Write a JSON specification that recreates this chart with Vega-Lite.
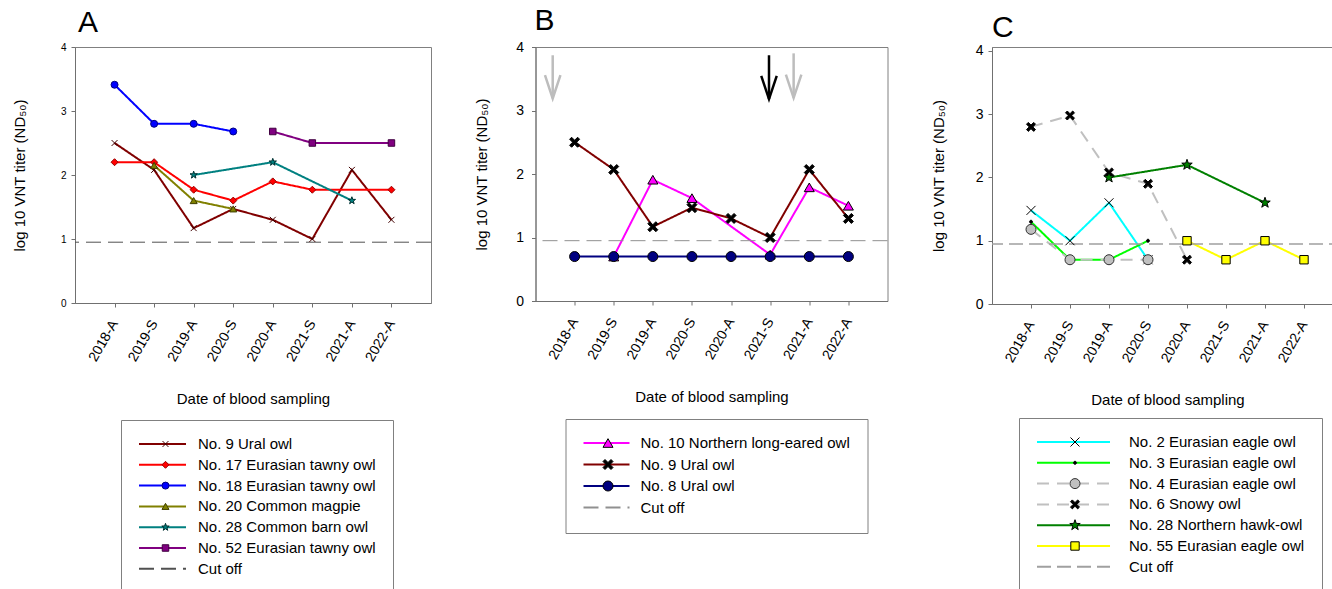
{
"$schema": "https://vega.github.io/schema/vega-lite/v6.json",
"padding": {"left": 11, "top": 5, "right": 0, "bottom": 0},
"config": {
  "font": "Liberation Sans",
  "view": {"stroke": "#808080", "strokeWidth": 1},
  "axis": {"labelColor": "black", "titleColor": "black", "titleFontWeight": "normal", "grid": false, "domainColor": "#707070", "tickColor": "#707070", "labelFont": "Liberation Sans", "titleFont": "Liberation Sans"},
  "legend": {"labelColor": "black", "labelFont": "Liberation Sans"},
  "title": {"color": "black", "font": "Liberation Sans"}
},
"datasets": {
  "panelA": [
    {"series": "No. 9 Ural owl", "date": "2018-A", "value": 2.50},
    {"series": "No. 9 Ural owl", "date": "2019-S", "value": 2.08},
    {"series": "No. 9 Ural owl", "date": "2019-A", "value": 1.17},
    {"series": "No. 9 Ural owl", "date": "2020-S", "value": 1.47},
    {"series": "No. 9 Ural owl", "date": "2020-A", "value": 1.30},
    {"series": "No. 9 Ural owl", "date": "2021-S", "value": 1.00},
    {"series": "No. 9 Ural owl", "date": "2021-A", "value": 2.08},
    {"series": "No. 9 Ural owl", "date": "2022-A", "value": 1.30},
    {"series": "No. 17 Eurasian tawny owl", "date": "2018-A", "value": 2.20},
    {"series": "No. 17 Eurasian tawny owl", "date": "2019-S", "value": 2.20},
    {"series": "No. 17 Eurasian tawny owl", "date": "2019-A", "value": 1.77},
    {"series": "No. 17 Eurasian tawny owl", "date": "2020-S", "value": 1.60},
    {"series": "No. 17 Eurasian tawny owl", "date": "2020-A", "value": 1.90},
    {"series": "No. 17 Eurasian tawny owl", "date": "2021-S", "value": 1.77},
    {"series": "No. 17 Eurasian tawny owl", "date": "2022-A", "value": 1.77},
    {"series": "No. 18 Eurasian tawny owl", "date": "2018-A", "value": 3.41},
    {"series": "No. 18 Eurasian tawny owl", "date": "2019-S", "value": 2.80},
    {"series": "No. 18 Eurasian tawny owl", "date": "2019-A", "value": 2.80},
    {"series": "No. 18 Eurasian tawny owl", "date": "2020-S", "value": 2.68},
    {"series": "No. 20 Common magpie", "date": "2019-S", "value": 2.15},
    {"series": "No. 20 Common magpie", "date": "2019-A", "value": 1.60},
    {"series": "No. 20 Common magpie", "date": "2020-S", "value": 1.47},
    {"series": "No. 28 Common barn owl", "date": "2019-A", "value": 2.00},
    {"series": "No. 28 Common barn owl", "date": "2020-A", "value": 2.20},
    {"series": "No. 28 Common barn owl", "date": "2021-A", "value": 1.60},
    {"series": "No. 52 Eurasian tawny owl", "date": "2020-A", "value": 2.68},
    {"series": "No. 52 Eurasian tawny owl", "date": "2021-S", "value": 2.50},
    {"series": "No. 52 Eurasian tawny owl", "date": "2022-A", "value": 2.50}
  ],
  "panelB": [
    {"series": "No. 10 Northern long-eared owl", "date": "2019-S", "value": 0.70},
    {"series": "No. 10 Northern long-eared owl", "date": "2019-A", "value": 1.91},
    {"series": "No. 10 Northern long-eared owl", "date": "2020-S", "value": 1.62},
    {"series": "No. 10 Northern long-eared owl", "date": "2021-S", "value": 0.73},
    {"series": "No. 10 Northern long-eared owl", "date": "2021-A", "value": 1.79},
    {"series": "No. 10 Northern long-eared owl", "date": "2022-A", "value": 1.50},
    {"series": "No. 9 Ural owl", "date": "2018-A", "value": 2.50},
    {"series": "No. 9 Ural owl", "date": "2019-S", "value": 2.07},
    {"series": "No. 9 Ural owl", "date": "2019-A", "value": 1.17},
    {"series": "No. 9 Ural owl", "date": "2020-S", "value": 1.47},
    {"series": "No. 9 Ural owl", "date": "2020-A", "value": 1.30},
    {"series": "No. 9 Ural owl", "date": "2021-S", "value": 1.00},
    {"series": "No. 9 Ural owl", "date": "2021-A", "value": 2.07},
    {"series": "No. 9 Ural owl", "date": "2022-A", "value": 1.30},
    {"series": "No. 8 Ural owl", "date": "2018-A", "value": 0.70},
    {"series": "No. 8 Ural owl", "date": "2019-S", "value": 0.70},
    {"series": "No. 8 Ural owl", "date": "2019-A", "value": 0.70},
    {"series": "No. 8 Ural owl", "date": "2020-S", "value": 0.70},
    {"series": "No. 8 Ural owl", "date": "2020-A", "value": 0.70},
    {"series": "No. 8 Ural owl", "date": "2021-S", "value": 0.70},
    {"series": "No. 8 Ural owl", "date": "2021-A", "value": 0.70},
    {"series": "No. 8 Ural owl", "date": "2022-A", "value": 0.70}
  ],
  "arrowsB": [
    {"kind": "type1", "pos": 0.44, "top": 3.87, "tip": 3.19},
    {"kind": "type2", "pos": 5.97, "top": 3.87, "tip": 3.18},
    {"kind": "type1", "pos": 6.6, "top": 3.9, "tip": 3.2}
  ],
  "panelC": [
    {"series": "No. 2 Eurasian eagle owl", "date": "2018-A", "value": 1.48},
    {"series": "No. 2 Eurasian eagle owl", "date": "2019-S", "value": 1.00},
    {"series": "No. 2 Eurasian eagle owl", "date": "2019-A", "value": 1.60},
    {"series": "No. 2 Eurasian eagle owl", "date": "2020-S", "value": 0.70},
    {"series": "No. 3 Eurasian eagle owl", "date": "2018-A", "value": 1.30},
    {"series": "No. 3 Eurasian eagle owl", "date": "2019-S", "value": 0.70},
    {"series": "No. 3 Eurasian eagle owl", "date": "2019-A", "value": 0.70},
    {"series": "No. 3 Eurasian eagle owl", "date": "2020-S", "value": 1.00},
    {"series": "No. 4 Eurasian eagle owl", "date": "2018-A", "value": 1.18},
    {"series": "No. 4 Eurasian eagle owl", "date": "2019-S", "value": 0.70},
    {"series": "No. 4 Eurasian eagle owl", "date": "2019-A", "value": 0.70},
    {"series": "No. 4 Eurasian eagle owl", "date": "2020-S", "value": 0.70},
    {"series": "No. 6 Snowy owl", "date": "2018-A", "value": 2.80},
    {"series": "No. 6 Snowy owl", "date": "2019-S", "value": 2.98},
    {"series": "No. 6 Snowy owl", "date": "2019-A", "value": 2.08},
    {"series": "No. 6 Snowy owl", "date": "2020-S", "value": 1.90},
    {"series": "No. 6 Snowy owl", "date": "2020-A", "value": 0.70},
    {"series": "No. 28 Northern hawk-owl", "date": "2019-A", "value": 2.00},
    {"series": "No. 28 Northern hawk-owl", "date": "2020-A", "value": 2.20},
    {"series": "No. 28 Northern hawk-owl", "date": "2021-A", "value": 1.60},
    {"series": "No. 55 Eurasian eagle owl", "date": "2020-A", "value": 1.00},
    {"series": "No. 55 Eurasian eagle owl", "date": "2021-S", "value": 0.70},
    {"series": "No. 55 Eurasian eagle owl", "date": "2021-A", "value": 1.00},
    {"series": "No. 55 Eurasian eagle owl", "date": "2022-A", "value": 0.70}
  ]
},
"bounds": "flush",
"spacing": 104.5,
"resolve": {"scale": {"x": "independent", "y": "independent", "color": "independent", "strokeDash": "independent", "shape": "independent", "fill": "independent", "stroke": "independent"}, "legend": {"color": "independent", "shape": "independent", "strokeDash": "independent", "fill": "independent", "stroke": "independent"}},
"hconcat": [
{
  "width": 356, "height": 256,
  "title": {"text": "A", "anchor": "start", "frame": "group", "fontSize": 30, "fontWeight": "normal", "offset": -20, "dx": 3, "baseline": "alphabetic"},
  "layer": [
    {"data": {"name": "panelA"}, "mark": {"type": "line", "strokeWidth": 2},
     "encoding": {
       "x": {"field": "date", "type": "ordinal", "sort": ["2018-A","2019-S","2019-A","2020-S","2020-A","2021-S","2021-A","2022-A"], "scale": {"domain": ["2018-A","2019-S","2019-A","2020-S","2020-A","2021-S","2021-A","2022-A"], "padding": 1}, "axis": {"title": "Date of blood sampling", "labelAngle": -60, "labelFontSize": 14, "titleFontSize": 15, "tickSize": 4, "labelPadding": 14, "titlePadding": 28}},
       "y": {"field": "value", "type": "quantitative", "scale": {"domain": [0, 4], "nice": false}, "axis": {"title": "log 10 VNT titer (ND₅₀)", "values": [0,1,2,3,4], "format": "d", "labelFontSize": 10, "titleFontSize": 15, "tickSize": 4, "labelPadding": 5, "titlePadding": 33}},
       "color": {"field": "series", "type": "nominal",
         "scale": {"domain": ["No. 9 Ural owl","No. 17 Eurasian tawny owl","No. 18 Eurasian tawny owl","No. 20 Common magpie","No. 28 Common barn owl","No. 52 Eurasian tawny owl","Cut off"], "range": ["#800000","#FF0000","#0000FF","#808000","#008080","#800080","#505050"]},
         "legend": {"orient": "none", "legendX": 46, "legendY": 373, "title": null, "direction": "vertical", "symbolType": "stroke", "symbolSize": 2209, "symbolStrokeWidth": 2, "labelFontSize": 15, "labelOffset": 11, "labelLimit": 400, "clipHeight": 14, "rowPadding": 5.8, "padding": 17, "strokeColor": "#808080"}},
       "strokeDash": {"field": "series", "type": "nominal",
         "scale": {"domain": ["No. 9 Ural owl","No. 17 Eurasian tawny owl","No. 18 Eurasian tawny owl","No. 20 Common magpie","No. 28 Common barn owl","No. 52 Eurasian tawny owl","Cut off"], "range": [[1,0],[1,0],[1,0],[1,0],[1,0],[1,0],[15,7]]},
         "legend": {"orient": "none", "legendX": 46, "legendY": 373, "title": null, "direction": "vertical", "symbolType": "stroke", "symbolSize": 2209, "symbolStrokeWidth": 2, "labelFontSize": 15, "labelOffset": 11, "labelLimit": 400, "clipHeight": 14, "rowPadding": 5.8, "padding": 17, "strokeColor": "#808080"}}
     }},
    {"data": {"values": [{"label": "Cut off", "value": 0.95}]}, "mark": {"type": "rule", "strokeWidth": 1},
     "encoding": {"y": {"field": "value", "type": "quantitative"}, "color": {"field": "label", "type": "nominal"}, "strokeDash": {"field": "label", "type": "nominal"}}},
    {"data": {"name": "panelA"}, "mark": {"type": "point", "opacity": 1, "strokeWidth": 1, "size": 49},
     "encoding": {
       "x": {"field": "date", "type": "ordinal", "sort": ["2018-A","2019-S","2019-A","2020-S","2020-A","2021-S","2021-A","2022-A"]},
       "y": {"field": "value", "type": "quantitative"},
       "shape": {"field": "series", "type": "nominal",
         "scale": {"domain": ["No. 9 Ural owl","No. 17 Eurasian tawny owl","No. 18 Eurasian tawny owl","No. 20 Common magpie","No. 28 Common barn owl","No. 52 Eurasian tawny owl"], "range": ["M-0.85,-0.85L0.85,0.85M-0.85,0.85L0.85,-0.85","diamond","circle","triangle-up","M0,-1.1L0.259,-0.356L1.046,-0.34L0.418,0.136L0.647,0.89L0,0.44L-0.647,0.89L-0.418,0.136L-1.046,-0.34L-0.259,-0.356Z","M-0.93,-0.93H0.93V0.93H-0.93Z"]},
         "legend": {"orient": "none", "legendX": 66, "legendY": 373, "title": null, "direction": "vertical", "symbolSize": 49, "labelFontSize": 15, "labelOpacity": 0, "labelOffset": 11, "labelLimit": 400, "clipHeight": 14, "rowPadding": 5.8, "padding": 17, "symbolStrokeWidth": 1}},
       "fill": {"field": "series", "type": "nominal", "scale": {"domain": ["No. 9 Ural owl","No. 17 Eurasian tawny owl","No. 18 Eurasian tawny owl","No. 20 Common magpie","No. 28 Common barn owl","No. 52 Eurasian tawny owl"], "range": ["transparent","#FF0000","#0000FF","#808000","#008080","#800080"]},
         "legend": {"orient": "none", "legendX": 66, "legendY": 373, "title": null, "direction": "vertical", "symbolSize": 49, "labelFontSize": 15, "labelOpacity": 0, "labelOffset": 11, "labelLimit": 400, "clipHeight": 14, "rowPadding": 5.8, "padding": 17, "symbolStrokeWidth": 1}},
       "stroke": {"field": "series", "type": "nominal", "scale": {"domain": ["No. 9 Ural owl","No. 17 Eurasian tawny owl","No. 18 Eurasian tawny owl","No. 20 Common magpie","No. 28 Common barn owl","No. 52 Eurasian tawny owl"], "range": ["#400000","#990000","#000080","#404000","#003030","#400040"]},
         "legend": {"orient": "none", "legendX": 66, "legendY": 373, "title": null, "direction": "vertical", "symbolSize": 49, "labelFontSize": 15, "labelOpacity": 0, "labelOffset": 11, "labelLimit": 400, "clipHeight": 14, "rowPadding": 5.8, "padding": 17, "symbolStrokeWidth": 1}}
     }}
  ]
},
{
  "width": 352, "height": 254,
  "title": {"text": "B", "anchor": "start", "frame": "group", "fontSize": 30, "fontWeight": "normal", "offset": -20, "dx": -1, "baseline": "alphabetic"},
  "resolve": {"scale": {"x": "independent"}},
  "layer": [
    {"layer": [
    {"data": {"name": "panelB"}, "mark": {"type": "line", "strokeWidth": 2},
     "encoding": {
       "x": {"field": "date", "type": "ordinal", "sort": ["2018-A","2019-S","2019-A","2020-S","2020-A","2021-S","2021-A","2022-A"], "scale": {"domain": ["2018-A","2019-S","2019-A","2020-S","2020-A","2021-S","2021-A","2022-A"], "padding": 1}, "axis": {"title": "Date of blood sampling", "labelAngle": -60, "labelFontSize": 14, "titleFontSize": 15, "tickSize": 4, "labelPadding": 14, "titlePadding": 28}},
       "y": {"field": "value", "type": "quantitative", "scale": {"domain": [0, 4], "nice": false}, "axis": {"title": "log 10 VNT titer (ND₅₀)", "values": [0,1,2,3,4], "format": "d", "labelFontSize": 14, "titleFontSize": 15, "tickSize": 4, "labelPadding": 8, "titlePadding": 26}},
       "color": {"field": "series", "type": "nominal",
         "scale": {"domain": ["No. 10 Northern long-eared owl","No. 9 Ural owl","No. 8 Ural owl","Cut off"], "range": ["#FF00FF","#800000","#000080","#909090"]},
         "legend": {"orient": "none", "legendX": 30, "legendY": 372, "title": null, "direction": "vertical", "symbolType": "stroke", "symbolSize": 2116, "symbolStrokeWidth": 2, "labelFontSize": 15, "labelOffset": 10, "labelLimit": 400, "clipHeight": 14, "rowPadding": 6.5, "padding": 17, "strokeColor": "#808080"}},
       "strokeDash": {"field": "series", "type": "nominal",
         "scale": {"domain": ["No. 10 Northern long-eared owl","No. 9 Ural owl","No. 8 Ural owl","Cut off"], "range": [[1,0],[1,0],[1,0],[15,7]]},
         "legend": {"orient": "none", "legendX": 30, "legendY": 372, "title": null, "direction": "vertical", "symbolType": "stroke", "symbolSize": 2116, "symbolStrokeWidth": 2, "labelFontSize": 15, "labelOffset": 10, "labelLimit": 400, "clipHeight": 14, "rowPadding": 6.5, "padding": 17, "strokeColor": "#808080"}}
     }},
    {"data": {"values": [{"label": "Cut off", "value": 0.95}]}, "mark": {"type": "rule", "strokeWidth": 1},
     "encoding": {"y": {"field": "value", "type": "quantitative"}, "color": {"field": "label", "type": "nominal"}, "strokeDash": {"field": "label", "type": "nominal"}}},
    {"data": {"name": "panelB"}, "mark": {"type": "point", "opacity": 1, "strokeWidth": 1, "size": 100},
     "encoding": {
       "x": {"field": "date", "type": "ordinal", "sort": ["2018-A","2019-S","2019-A","2020-S","2020-A","2021-S","2021-A","2022-A"]},
       "y": {"field": "value", "type": "quantitative"},
       "shape": {"field": "series", "type": "nominal",
         "scale": {"domain": ["No. 10 Northern long-eared owl","No. 9 Ural owl","No. 8 Ural owl"], "range": ["triangle-up","M-1,-0.6L-0.6,-1L0,-0.4L0.6,-1L1,-0.6L0.4,0L1,0.6L0.6,1L0,0.4L-0.6,1L-1,0.6L-0.4,0Z","circle"]},
         "legend": {"orient": "none", "legendX": 48, "legendY": 372, "title": null, "direction": "vertical", "symbolSize": 100, "labelFontSize": 15, "labelOpacity": 0, "labelOffset": 10, "labelLimit": 400, "clipHeight": 14, "rowPadding": 6.5, "padding": 17, "symbolStrokeWidth": 1}},
       "fill": {"field": "series", "type": "nominal", "scale": {"domain": ["No. 10 Northern long-eared owl","No. 9 Ural owl","No. 8 Ural owl"], "range": ["#FF00FF","#000000","#000080"]},
         "legend": {"orient": "none", "legendX": 48, "legendY": 372, "title": null, "direction": "vertical", "symbolSize": 100, "labelFontSize": 15, "labelOpacity": 0, "labelOffset": 10, "labelLimit": 400, "clipHeight": 14, "rowPadding": 6.5, "padding": 17, "symbolStrokeWidth": 1}},
       "stroke": {"field": "series", "type": "nominal", "scale": {"domain": ["No. 10 Northern long-eared owl","No. 9 Ural owl","No. 8 Ural owl"], "range": ["#000000","#000000","#000000"]},
         "legend": {"orient": "none", "legendX": 48, "legendY": 372, "title": null, "direction": "vertical", "symbolSize": 100, "labelFontSize": 15, "labelOpacity": 0, "labelOffset": 10, "labelLimit": 400, "clipHeight": 14, "rowPadding": 6.5, "padding": 17, "symbolStrokeWidth": 1}}
     }}
    ]},
    {"data": {"name": "arrowsB"},
     "layer": [
      {"mark": {"type": "rule", "strokeWidth": 2.5},
       "encoding": {
         "x": {"field": "pos", "type": "quantitative", "scale": {"domain": [0, 9], "nice": false, "zero": false}, "axis": null},
         "y": {"field": "top", "type": "quantitative", "scale": {"domain": [0, 4], "nice": false}},
         "y2": {"field": "tip"},
         "color": {"condition": {"test": "datum.kind === 'type2'", "value": "#000000"}, "value": "#BDBDBD"}
       }},
      {"mark": {"type": "point", "shape": "M-1,-3L0,0L1,-3", "size": 240, "strokeWidth": 2.5, "opacity": 1, "filled": false},
       "encoding": {
         "x": {"field": "pos", "type": "quantitative", "scale": {"domain": [0, 9], "nice": false, "zero": false}, "axis": null},
         "y": {"field": "tip", "type": "quantitative", "scale": {"domain": [0, 4], "nice": false}},
         "color": {"condition": {"test": "datum.kind === 'type2'", "value": "#000000"}, "value": "#BDBDBD"}
       }}
     ]}
  ]
},
{
  "width": 351, "height": 257,
  "title": {"text": "C", "anchor": "start", "frame": "group", "fontSize": 30, "fontWeight": "normal", "offset": -23, "dx": 0, "baseline": "alphabetic"},
  "layer": [
    {"data": {"name": "panelC"}, "mark": {"type": "line", "strokeWidth": 2},
     "encoding": {
       "x": {"field": "date", "type": "ordinal", "sort": ["2018-A","2019-S","2019-A","2020-S","2020-A","2021-S","2021-A","2022-A"], "scale": {"domain": ["2018-A","2019-S","2019-A","2020-S","2020-A","2021-S","2021-A","2022-A"], "padding": 1}, "axis": {"title": "Date of blood sampling", "labelAngle": -60, "labelFontSize": 14, "titleFontSize": 15, "tickSize": 4, "labelPadding": 14, "titlePadding": 28}},
       "y": {"field": "value", "type": "quantitative", "scale": {"domain": [0, 4.063], "nice": false}, "axis": {"title": "log 10 VNT titer (ND₅₀)", "values": [0,1,2,3,4], "format": "d", "labelFontSize": 14, "titleFontSize": 15, "tickSize": 4, "labelPadding": 5, "titlePadding": 29}},
       "color": {"field": "series", "type": "nominal",
         "scale": {"domain": ["No. 2 Eurasian eagle owl","No. 3 Eurasian eagle owl","No. 4 Eurasian eagle owl","No. 6 Snowy owl","No. 28 Northern hawk-owl","No. 55 Eurasian eagle owl","Cut off"], "range": ["#00FFFF","#00FF00","#C0C0C0","#C0C0C0","#008000","#FFFF00","#A0A0A0"]},
         "legend": {"orient": "none", "legendX": 27, "legendY": 371, "title": null, "direction": "vertical", "symbolType": "stroke", "symbolSize": 5329, "symbolStrokeWidth": 2, "labelFontSize": 15, "labelOffset": 18, "labelLimit": 400, "clipHeight": 14, "rowPadding": 5.8, "padding": 17, "strokeColor": "#808080"}},
       "strokeDash": {"field": "series", "type": "nominal",
         "scale": {"domain": ["No. 2 Eurasian eagle owl","No. 3 Eurasian eagle owl","No. 4 Eurasian eagle owl","No. 6 Snowy owl","No. 28 Northern hawk-owl","No. 55 Eurasian eagle owl","Cut off"], "range": [[1,0],[1,0],[12,8],[12,8],[1,0],[1,0],[14,6]]},
         "legend": {"orient": "none", "legendX": 27, "legendY": 371, "title": null, "direction": "vertical", "symbolType": "stroke", "symbolSize": 5329, "symbolStrokeWidth": 2, "labelFontSize": 15, "labelOffset": 18, "labelLimit": 400, "clipHeight": 14, "rowPadding": 5.8, "padding": 17, "strokeColor": "#808080"}}
     }},
    {"data": {"values": [{"label": "Cut off", "value": 0.95}]}, "mark": {"type": "rule", "strokeWidth": 1.5},
     "encoding": {"y": {"field": "value", "type": "quantitative"}, "color": {"field": "label", "type": "nominal"}, "strokeDash": {"field": "label", "type": "nominal"}}},
    {"data": {"name": "panelC"}, "mark": {"type": "point", "opacity": 1, "strokeWidth": 1, "size": 100},
     "encoding": {
       "x": {"field": "date", "type": "ordinal", "sort": ["2018-A","2019-S","2019-A","2020-S","2020-A","2021-S","2021-A","2022-A"]},
       "y": {"field": "value", "type": "quantitative"},
       "shape": {"field": "series", "type": "nominal",
         "scale": {"domain": ["No. 2 Eurasian eagle owl","No. 3 Eurasian eagle owl","No. 4 Eurasian eagle owl","No. 6 Snowy owl","No. 28 Northern hawk-owl","No. 55 Eurasian eagle owl"], "range": ["M-0.9,-0.9L0.9,0.9M-0.9,0.9L0.9,-0.9","M0.3,0A0.3,0.3 0 1,1 -0.3,0A0.3,0.3 0 1,1 0.3,0Z","circle","M-0.9,-0.54L-0.54,-0.9L0,-0.36L0.54,-0.9L0.9,-0.54L0.36,0L0.9,0.54L0.54,0.9L0,0.36L-0.54,0.9L-0.9,0.54L-0.36,0Z","M0,-1.1L0.259,-0.356L1.046,-0.34L0.418,0.136L0.647,0.89L0,0.44L-0.647,0.89L-0.418,0.136L-1.046,-0.34L-0.259,-0.356Z","M-0.84,-0.84H0.84V0.84H-0.84Z"]},
         "legend": {"orient": "none", "legendX": 58.5, "legendY": 371, "title": null, "direction": "vertical", "symbolSize": 100, "labelFontSize": 15, "labelOpacity": 0, "labelOffset": 18, "labelLimit": 400, "clipHeight": 14, "rowPadding": 5.8, "padding": 17, "symbolStrokeWidth": 1}},
       "fill": {"field": "series", "type": "nominal", "scale": {"domain": ["No. 2 Eurasian eagle owl","No. 3 Eurasian eagle owl","No. 4 Eurasian eagle owl","No. 6 Snowy owl","No. 28 Northern hawk-owl","No. 55 Eurasian eagle owl"], "range": ["transparent","#000000","#C0C0C0","#000000","#008000","#FFFF00"]},
         "legend": {"orient": "none", "legendX": 58.5, "legendY": 371, "title": null, "direction": "vertical", "symbolSize": 100, "labelFontSize": 15, "labelOpacity": 0, "labelOffset": 18, "labelLimit": 400, "clipHeight": 14, "rowPadding": 5.8, "padding": 17, "symbolStrokeWidth": 1}},
       "stroke": {"field": "series", "type": "nominal", "scale": {"domain": ["No. 2 Eurasian eagle owl","No. 3 Eurasian eagle owl","No. 4 Eurasian eagle owl","No. 6 Snowy owl","No. 28 Northern hawk-owl","No. 55 Eurasian eagle owl"], "range": ["#000000","#000000","#303030","#000000","#000000","#000000"]},
         "legend": {"orient": "none", "legendX": 58.5, "legendY": 371, "title": null, "direction": "vertical", "symbolSize": 100, "labelFontSize": 15, "labelOpacity": 0, "labelOffset": 18, "labelLimit": 400, "clipHeight": 14, "rowPadding": 5.8, "padding": 17, "symbolStrokeWidth": 1}}
     }}
  ]
}
]
}
